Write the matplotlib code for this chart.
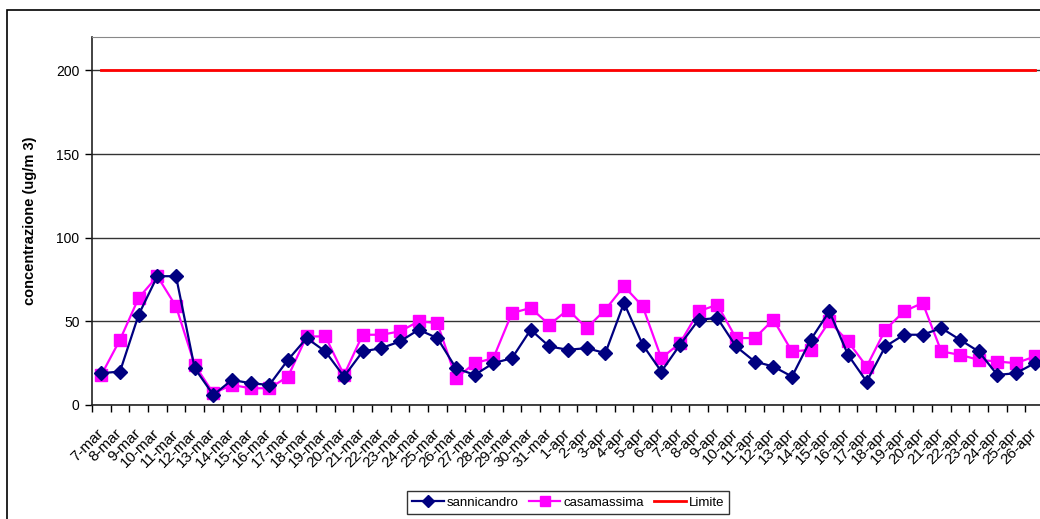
import matplotlib
matplotlib.use('Agg')
import matplotlib.pyplot as plt
from matplotlib.patches import Rectangle

plt.rcParams['font.family'] = ['Liberation Sans', 'DejaVu Sans']

# giorni di campionamento
giorni_mar = ['%d-mar' % d for d in range(7, 32)]
giorni_apr = ['%d-apr' % d for d in range(1, 27)]
giorni = giorni_mar + giorni_apr

sannicandro = [19, 20, 54, 77, 77, 22, 6, 15, 13, 12, 27, 40, 32, 17, 32, 34, 38,
               45, 40, 22, 18, 25, 28, 45, 35, 33, 34, 31, 61, 36, 20, 36, 51, 52,
               35, 26, 23, 17, 39, 56, 30, 14, 35, 42, 42, 46, 39, 32, 18, 19, 25]
casamassima = [18, 39, 64, 77, 59, 24, 7, 12, 10, 10, 17, 41, 41, 18, 42, 42, 44,
               50, 49, 16, 25, 28, 55, 58, 48, 57, 46, 57, 71, 59, 28, 37, 56, 60,
               40, 40, 51, 32, 33, 50, 38, 23, 45, 56, 61, 32, 30, 27, 26, 25, 29]
limite = [200] * len(giorni)

fig = plt.figure(figsize=(10.4, 5.19), dpi=100)
# cornice esterna del grafico
fig.patches.append(Rectangle((7 / 1040, -0.1), 1.2, 1 - 10 / 519 + 0.1,
                             transform=fig.transFigure, fill=False,
                             edgecolor='black', linewidth=1.2))

ax = fig.add_axes([92 / 1040, 114 / 519, 952 / 1040, 368 / 519])
x = list(range(len(giorni)))

ax.plot(x, sannicandro, color='#000080', linewidth=1.6, marker='D',
        markersize=7.5, label='sannicandro', zorder=4)
ax.plot(x, casamassima, color='#FF00FF', linewidth=1.6, marker='s',
        markersize=9, label='casamassima', zorder=3)
ax.plot(x, limite, color='#FF0000', linewidth=2, label='Limite', zorder=3)

ax.set_xlim(-0.5, len(giorni) - 0.5)
ax.set_ylim(0, 220)
ax.set_yticks([0, 50, 100, 150, 200])
ax.yaxis.grid(True, color='#333333', linewidth=1)
ax.set_axisbelow(True)

ax.set_xticks(x)
ax.set_xticklabels(giorni, rotation=45, ha='right', va='center',
                   rotation_mode='anchor', fontsize=11)
ax.set_xticks([i - 0.5 for i in range(len(giorni) + 1)], minor=True)
ax.tick_params(axis='x', which='major', length=0, pad=19)
ax.tick_params(axis='x', which='minor', length=5, width=1, direction='out')
ax.tick_params(axis='y', length=5, width=1, labelsize=10, pad=4)

for s in ['top', 'right']:
    ax.spines[s].set_color('#888888')
for s in ['left', 'bottom']:
    ax.spines[s].set_color('#222222')
    ax.spines[s].set_linewidth(1.2)

ax.set_ylabel('concentrazione (ug/m 3)', fontsize=10.5, fontweight='bold',
              labelpad=14)

fig.legend(loc='upper center', bbox_to_anchor=(568 / 1040, 1 - 491 / 519),
           ncol=3, fontsize=9.5, frameon=True, fancybox=False,
           edgecolor='black', handlelength=2.4, columnspacing=0.8,
           handletextpad=0.2, borderpad=0.4, borderaxespad=0,
           markerscale=0.75)

fig.savefig('out.png', dpi=100)
